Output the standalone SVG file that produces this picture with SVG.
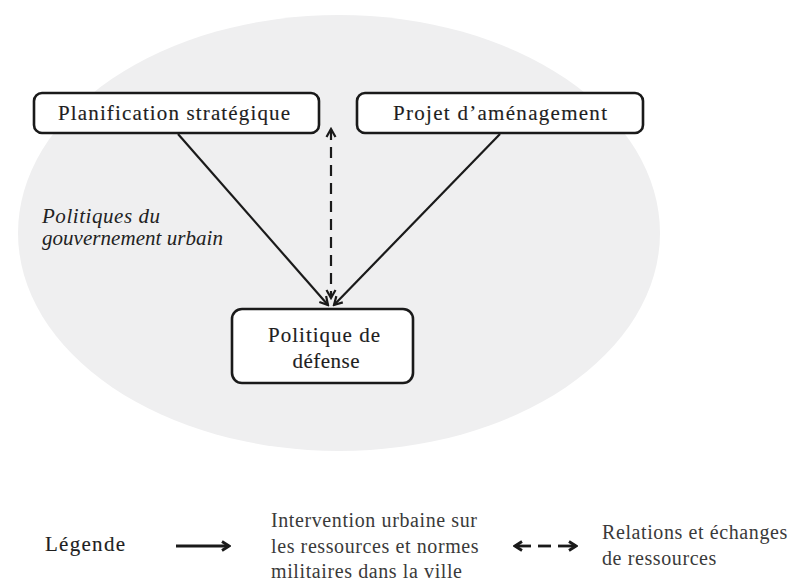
<svg xmlns="http://www.w3.org/2000/svg" width="793" height="585" viewBox="0 0 793 585">
<style>
.box{fill:#fff;stroke:#1a1a1a;stroke-width:2.6}
text{font-family:'Liberation Serif','Times New Roman',serif}
.lbl{font-size:21px;text-anchor:middle;fill:#1e1e1e;stroke:#1e1e1e;stroke-width:0.15}
.it{font-size:21px;font-style:italic;fill:#222}
.lg{font-size:20px;letter-spacing:0.6px;fill:#3a3a3a}
.edge{stroke:#1a1a1a;stroke-width:2.2;fill:none}
</style>
<defs>
<marker id="ahs" viewBox="0 0 12 12" refX="10" refY="6" markerWidth="12" markerHeight="12" orient="auto-start-reverse" markerUnits="userSpaceOnUse">
<path d="M2,1.5 L10,6 L2,10.5" fill="none" stroke="#1a1a1a" stroke-width="2.2"/>
</marker>
<marker id="ahl" viewBox="0 0 12 12" refX="10" refY="6" markerWidth="12" markerHeight="12" orient="auto-start-reverse" markerUnits="userSpaceOnUse">
<path d="M3,1.5 L10,6 L3,10.5" fill="none" stroke="#1a1a1a" stroke-width="2.8"/>
</marker>
</defs>
<rect width="793" height="585" fill="#fff"/>
<ellipse cx="339" cy="233" rx="321" ry="218" fill="#efeff0"/>
<text class="it" x="42" y="223" textLength="118" lengthAdjust="spacing">Politiques du</text>
<text class="it" x="42" y="245" textLength="181" lengthAdjust="spacing">gouvernement urbain</text>
<g id="connectors">
<line class="edge" x1="178" y1="134" x2="328" y2="305" marker-end="url(#ahs)"/>
<line class="edge" x1="500" y1="134" x2="334" y2="305" marker-end="url(#ahs)"/>
<line class="edge" x1="331" y1="129" x2="331" y2="298" stroke-dasharray="11,7" marker-start="url(#ahs)" marker-end="url(#ahs)"/>
</g>
<g id="n1">
<rect class="box" x="34" y="93" width="285" height="40" rx="8"/>
<text class="lbl" x="174" y="120" textLength="232" lengthAdjust="spacing">Planification stratégique</text>
</g>
<g id="n2">
<rect class="box" x="357" y="93" width="286" height="40" rx="8"/>
<text class="lbl" x="500" y="120" textLength="214" lengthAdjust="spacing">Projet d’aménagement</text>
</g>
<g id="n3">
<rect class="box" x="232" y="309" width="181" height="74" rx="10"/>
<text class="lbl" x="324" y="342" textLength="112" lengthAdjust="spacing">Politique de</text>
<text class="lbl" x="326" y="368" textLength="67" lengthAdjust="spacing">défense</text>
</g>
<g id="legend">
<text class="lbl" x="85" y="551" textLength="80" lengthAdjust="spacing">Légende</text>
<line x1="176" y1="546" x2="229" y2="546" stroke="#1a1a1a" stroke-width="2.8" marker-end="url(#ahl)"/>
<text class="lg" x="271" y="527">Intervention urbaine sur</text>
<text class="lg" x="271" y="553">les ressources et normes</text>
<text class="lg" x="271" y="578">militaires dans la ville</text>
<line x1="515" y1="546" x2="531" y2="546" stroke="#1a1a1a" stroke-width="2.8" marker-start="url(#ahl)"/>
<line x1="538" y1="546" x2="551" y2="546" stroke="#1a1a1a" stroke-width="2.8"/>
<line x1="558" y1="546" x2="576" y2="546" stroke="#1a1a1a" stroke-width="2.8" marker-end="url(#ahl)"/>
<text class="lg" x="602" y="539">Relations et échanges</text>
<text class="lg" x="602" y="565">de ressources</text>
</g>
</svg>
